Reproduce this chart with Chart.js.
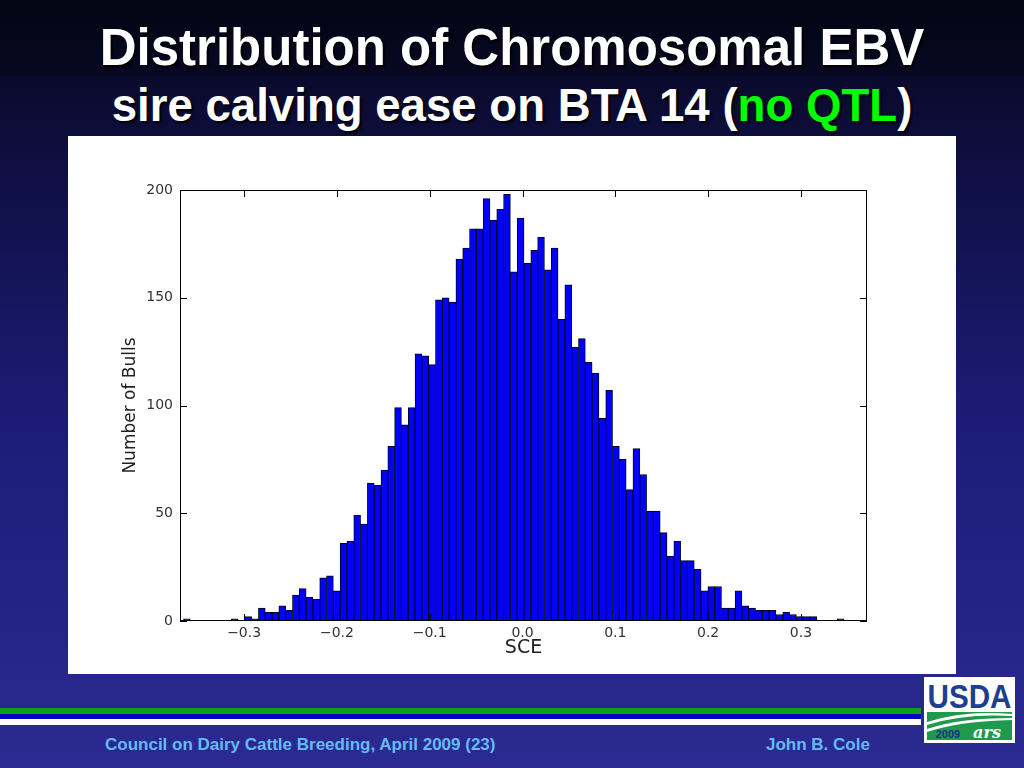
<!DOCTYPE html>
<html><head><meta charset="utf-8">
<script src="https://cdn.jsdelivr.net/npm/chart.js@4.4.0/dist/chart.umd.min.js"></script>
<style>
html,body{margin:0;padding:0;width:1024px;height:768px;overflow:hidden}
body{position:relative;background:linear-gradient(to bottom,#06061a 0%,#101048 25%,#1c1c78 55%,#2a2a92 100%);font-family:"Liberation Sans",Arial,sans-serif}
#hdr{position:absolute;left:0;top:0;width:1024px;height:76px;background:rgba(0,0,0,0.22)}
.t{position:absolute;left:0;width:1024px;text-align:center;color:#fff;font-weight:bold;white-space:nowrap;text-shadow:2px 2px 2px #000}
#t1{top:22px;font-size:51px;line-height:51px}
#t2{top:83px;font-size:45.6px;line-height:46px}
#t2 span{color:#00ff00}
#panel{position:absolute;left:68px;top:136px;width:888px;height:538px;background:#fff}
#c{position:absolute;left:0;top:0}
.ln{position:absolute;left:0;width:921px}
#g{top:708px;height:6px;background:#12a012}
#b{top:714px;height:5px;background:#0000c8}
#w{top:719px;height:6px;background:#fff}
.ft{position:absolute;top:734px;font-size:17px;line-height:21px;font-weight:bold;color:#66bbf4;white-space:nowrap}
#f1{left:105px}
#f2{left:766px}
#logo{position:absolute;left:924px;top:677px;width:91px;height:66px}
</style></head>
<body>
<div id="hdr"></div>
<div class="t" id="t1">Distribution of Chromosomal EBV</div>
<div class="t" id="t2">sire calving ease on BTA 14 (<span>no QTL</span>)</div>
<div id="panel"><canvas id="c" width="888" height="538"></canvas></div>
<div class="ln" id="g"></div><div class="ln" id="b"></div><div class="ln" id="w"></div>
<div class="ft" id="f1">Council on Dairy Cattle Breeding, April 2009 (23)</div>
<div class="ft" id="f2">John B. Cole</div>
<svg id="logo" width="91" height="66" viewBox="0 0 91 66">
<rect x="0" y="0" width="91" height="66" fill="#fff"/>
<text x="45.5" y="31" text-anchor="middle" font-family="Liberation Sans Narrow, Liberation Sans, Arial" font-weight="bold" font-size="34" fill="#1c3f8f" textLength="84" lengthAdjust="spacingAndGlyphs">USDA</text>
<rect x="3" y="35" width="85" height="28" fill="#1f9a4c"/>
<path d="M3 45 Q40 33 88 37 L88 39 Q40 36 3 48 Z" fill="#fff"/>
<path d="M3 52 Q35 41 88 41 L88 43 Q35 44 3 55 Z" fill="#fff"/>
<text x="24" y="61" text-anchor="middle" font-family="Liberation Sans, Arial" font-weight="bold" font-size="11" fill="#1c2f8f">2009</text>
<text x="63" y="61" text-anchor="middle" font-family="DejaVu Serif, serif" font-style="italic" font-weight="bold" font-size="16" fill="#fff">ars</text>
</svg>
<script>
// Histogram bins (SCE), counts
const binStart = -0.3653;
const binWidth = 0.007338;
const counts = [
  1,0,0,0,0,0,0,1,0,2,
  1,6,4,4,7,5,12,15,11,10,
  20,21,14,36,37,49,45,64,63,70,
  81,99,91,99,124,123,119,149,150,148,
  168,173,182,182,196,186,191,198,162,187,
  166,172,178,163,173,140,156,127,131,120,
  115,94,107,81,75,61,80,68,51,51,
  41,30,37,28,28,24,14,16,16,6,
  6,14,7,6,5,5,5,3,4,3,
  2,2,2,0,0,0,1
];
const xTickValues = [-0.3,-0.2,-0.1,0,0.1,0.2,0.3];
const xTickLabels = ['\u22120.3','\u22120.2','\u22120.1','0.0','0.1','0.2','0.3'];
const yTickValues = [0,50,100,150,200];
const xMin = -0.3691, xMax = 0.3712;
const yMin = 0, yMax = 200;

const points = counts.map((c,i)=>({x: binStart + binWidth*(i+0.5), y: c}));

const framePlugin = {
  id:'frame',
  afterDatasetsDraw(chart){
    const {ctx, chartArea:a, scales:{x,y}} = chart;
    ctx.save();
    ctx.strokeStyle = '#000';
    ctx.lineWidth = 1;
    ctx.strokeRect(Math.round(a.left)+0.5, Math.round(a.top)+0.5, Math.round(a.right-a.left)-1, Math.round(a.bottom-a.top)-1);
    ctx.beginPath();
    xTickValues.forEach(v=>{
      const px = Math.round(x.getPixelForValue(v))+0.5;
      ctx.moveTo(px,a.bottom); ctx.lineTo(px,a.bottom-7);
      ctx.moveTo(px,a.top); ctx.lineTo(px,a.top+7);
    });
    yTickValues.forEach(v=>{
      const py = Math.round(y.getPixelForValue(v))+0.5;
      ctx.moveTo(a.left,py); ctx.lineTo(a.left+7,py);
      ctx.moveTo(a.right,py); ctx.lineTo(a.right-7,py);
    });
    ctx.stroke();
    ctx.restore();
  }
};

new Chart(document.getElementById('c'), {
  type:'bar',
  data:{datasets:[{
    data: points,
    backgroundColor:'#0000ff',
    borderColor:'#000022',
    borderWidth:1,
    borderSkipped:false,
    barPercentage:1,
    categoryPercentage:1
  }]},
  options:{
    responsive:false,
    animation:false,
    events:[],
    layout:{padding:{top:54,right:89,left:0,bottom:0}},
    plugins:{legend:{display:false},tooltip:{enabled:false}},
    scales:{
      x:{
        type:'linear', min:xMin, max:xMax, offset:false,
        grid:{display:false, drawTicks:false},
        border:{display:false},
        afterBuildTicks:s=>{ s.ticks = xTickValues.map(v=>({value:v})); },
        afterFit:s=>{ s.height = 53; },
        ticks:{autoSkip:false, maxRotation:0, padding:4, color:'#333',
          font:{family:'DejaVu Sans', size:14},
          callback:(v,i)=>xTickLabels[i]},
        title:{display:true, text:'SCE', color:'#222', font:{family:'DejaVu Sans', size:19}, padding:{top:0,bottom:15}}
      },
      y:{
        min:yMin, max:yMax,
        grid:{display:false, drawTicks:false},
        border:{display:false},
        afterBuildTicks:s=>{ s.ticks = yTickValues.map(v=>({value:v})); },
        afterFit:s=>{ s.width = 112; },
        ticks:{padding:7, color:'#333', font:{family:'DejaVu Sans', size:14}},
        title:{display:true, text:'Number of Bulls', color:'#222', font:{family:'DejaVu Sans', size:17}, padding:{top:52,bottom:0}}
      }
    }
  },
  plugins:[framePlugin]
});
</script>
</body></html>
